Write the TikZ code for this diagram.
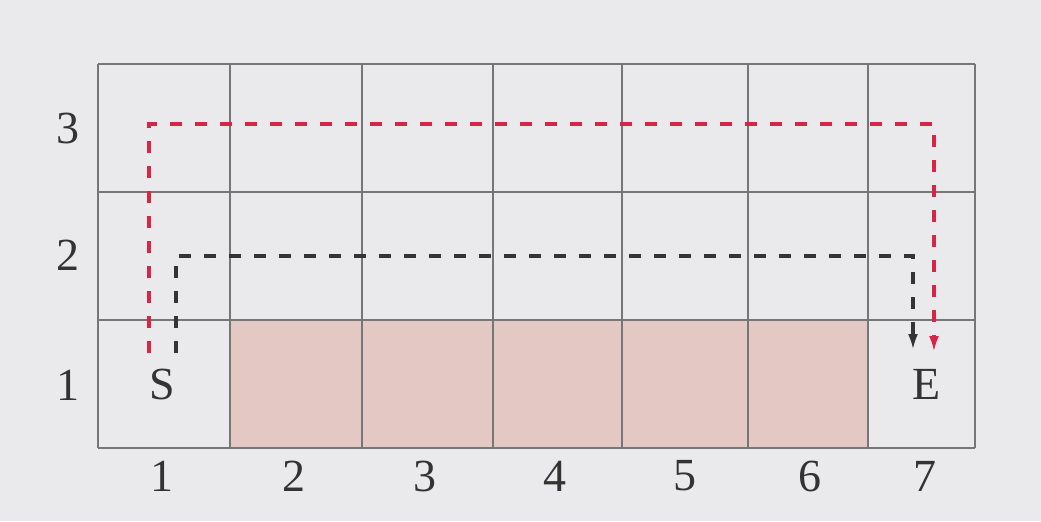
\documentclass[tikz,border=0pt]{standalone}
\usepackage{fontspec}
\setmainfont{Liberation Serif}
\usetikzlibrary{arrows.meta}
\definecolor{paper}{RGB}{234,234,236}
\definecolor{blockpink}{RGB}{228,200,196}
\definecolor{gridgray}{RGB}{118,118,118}
\definecolor{routered}{RGB}{214,38,70}
\definecolor{routeblack}{RGB}{52,52,52}

\begin{document}
\begin{tikzpicture}[
      x=0.5pt, y=-0.5pt,
      gridline/.style={draw=gridgray, line width=0.65pt},
      lbl/.style={font=\fontsize{23}{26}\selectfont, text=black!80, inner sep=0pt},
      route/.style={dash pattern=on 6pt off 6.5pt, line width=1.6pt, -{Latex[length=8pt,width=5pt]}}]
    \fill[paper] (0,0) rectangle (1041,521);
    \useasboundingbox (0,0) rectangle (1041,521);
    % blocked cells, row 1
    \fill[blockpink] (230,320) rectangle (868,448);
    % grid
    \foreach \x in {98,230,362,493,622,748,868,975}
      \draw[gridline] (\x,64) -- (\x,448);
    \foreach \y in {64,192,320,448}
      \draw[gridline] (98,\y) -- (975,\y);
    % column and row numbers
    \foreach \n/\x in {1/162,2/294,3/425,4/555,5/685,6/810,7/925}
      \node[lbl] (col\n) at (\x,476) {\n};
    \foreach \n/\y in {1/385,2/255,3/128}
      \node[lbl] (row\n) at (68,\y) {\n};
    \node[lbl] (S) at (162,384) {S};
    \node[lbl] (E) at (927,384) {E};
    % routes
    \coordinate (redstart) at (149,353);
    \coordinate (redturn) at (934,124);
    \coordinate (redend) at (934,352);
    \coordinate (blackstart) at (176,353);
    \coordinate (blackturn) at (913,256);
    \coordinate (blackend) at (913,350);
    \draw[route, routered] (redstart) |- (redturn) -- (redend);
    \draw[route, routeblack] (blackstart) |- (blackturn) -- (blackend);
  \end{tikzpicture}
\end{document}
